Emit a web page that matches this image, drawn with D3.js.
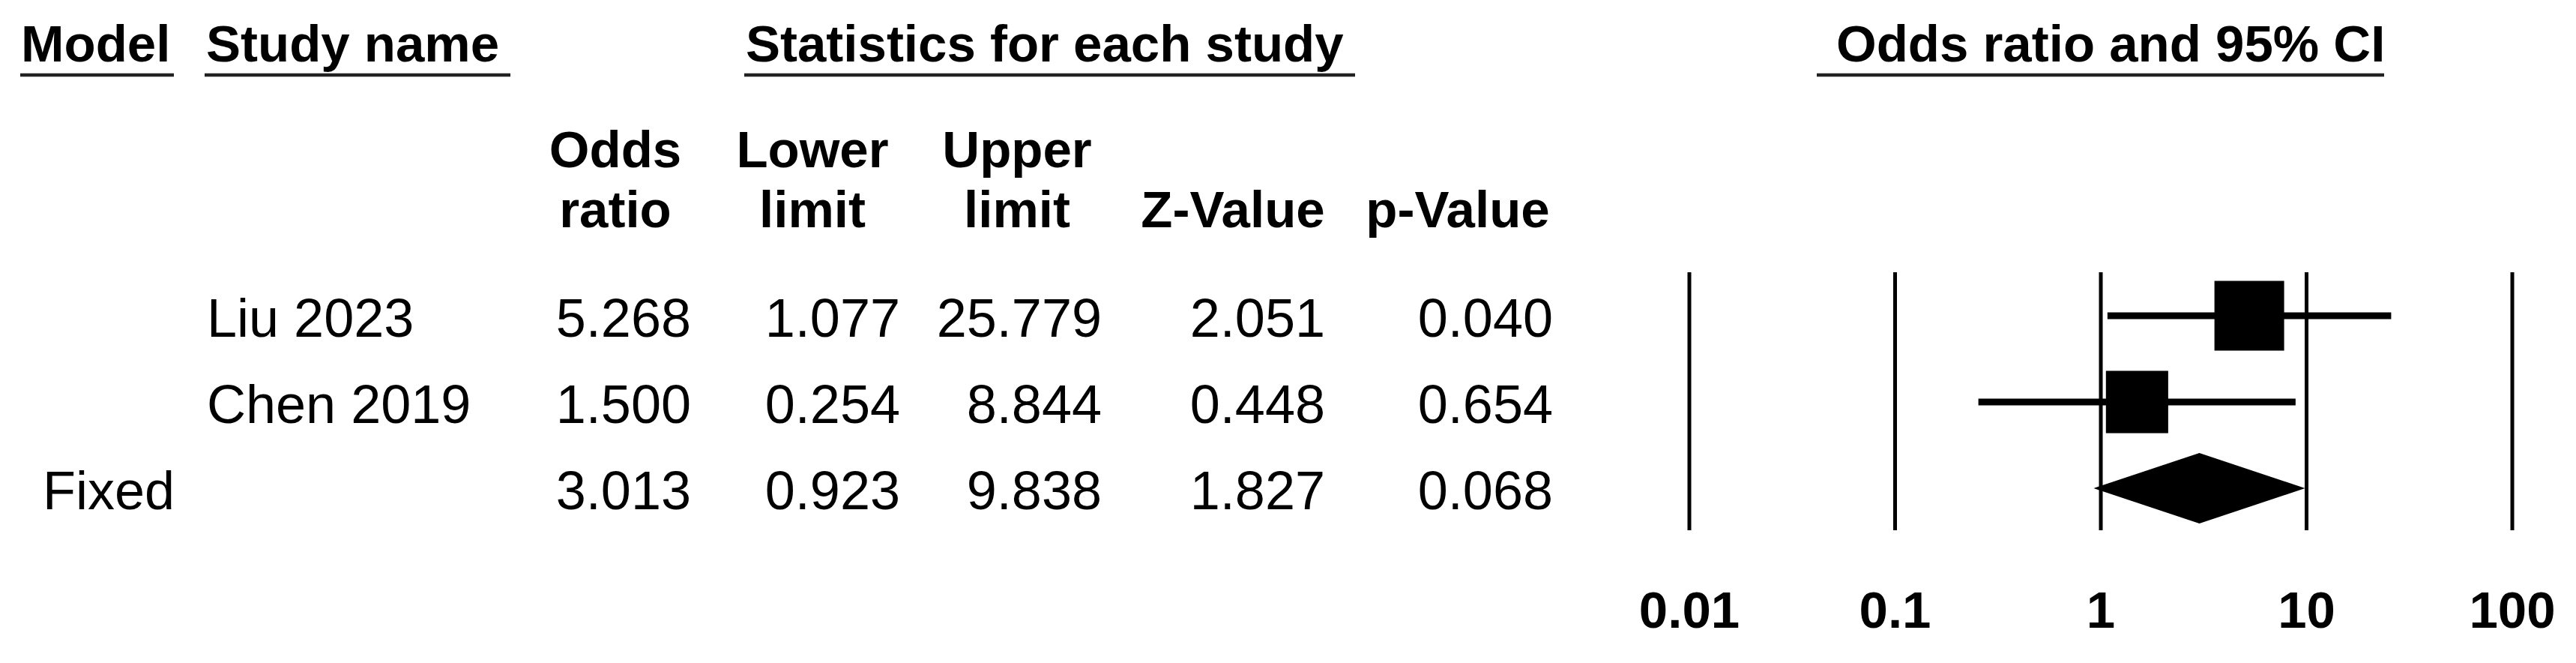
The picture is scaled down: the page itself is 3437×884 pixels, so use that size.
<!DOCTYPE html>
<html>
<head>
<meta charset="utf-8">
<script src="https://cdn.jsdelivr.net/npm/d3@7"></script>
<style>
    body { margin: 0; background: #fff; }
    text { font-family: "Liberation Sans", Arial, sans-serif; fill: #000; }
    .head { font-weight: bold; font-size: 69px; }
    .cell { font-size: 72px; }
</style>
</head>
<body>
<svg id="svg1" width="3437" height="884"></svg>
<script>
var studyNames = ["Liu 2023", "Chen 2019"];
var modelName = "Fixed";
var oddsRatio = [5.268, 1.500, 3.013];
var lowerLimit = [1.077, 0.254, 0.923];
var upperLimit = [25.779, 8.844, 9.838];
var zValue = [2.051, 0.448, 1.827];
var pValue = [0.040, 0.654, 0.068];
var relWeight = [55.6, 44.4];
var tickValues = [0.01, 0.1, 1, 10, 100];
var tickLabels = ["0.01", "0.1", "1", "10", "100"];

var svg = d3.select("#svg1"),
    fmt = d3.format(".3f");

var x = d3.scaleLog()
    .domain([0.01, 100])
    .range([2254, 3352]);

var y = d3.scalePoint()
    .domain([0, 1, 2])
    .range([421, 651]);

// box side grows with sqrt of the weight (area ~ weight)
var box = d3.scaleSqrt()
    .domain([0, 100])
    .range([0, 124.7]);

// top headers with underline
var heads = [
    { t: "Model", x: 28, x0: 27, x1: 232 },
    { t: "Study name", x: 275, x0: 273, x1: 681 },
    { t: "Statistics for each study", x: 995, x0: 993, x1: 1808 },
    { t: "Odds ratio and 95% CI", x: 2450, x0: 2424, x1: 3181 }
];

svg.selectAll(".toph")
    .data(heads)
    .enter().append("text")
    .attr("class", "head toph")
    .attr("x", function (d) { return d.x; })
    .attr("y", 82)
    .text(function (d) { return d.t; });

svg.selectAll(".uline")
    .data(heads)
    .enter().append("line")
    .attr("class", "uline")
    .attr("x1", function (d) { return d.x0; })
    .attr("x2", function (d) { return d.x1; })
    .attr("y1", 100)
    .attr("y2", 100)
    .attr("stroke", "#222")
    .attr("stroke-width", 4.5);

// column headers
var cols = [
    { l1: "Odds", l2: "ratio", c: 821, r: 922, v: oddsRatio },
    { l1: "Lower", l2: "limit", c: 1084, r: 1201, v: lowerLimit },
    { l1: "Upper", l2: "limit", c: 1357, r: 1470, v: upperLimit },
    { l1: "", l2: "Z-Value", c: 1645, r: 1768, v: zValue },
    { l1: "", l2: "p-Value", c: 1945, r: 2072, v: pValue }
];

cols.forEach(function (col) {
    svg.append("text")
        .attr("class", "head")
        .attr("x", col.c)
        .attr("y", 223)
        .attr("text-anchor", "middle")
        .text(col.l1);
    svg.append("text")
        .attr("class", "head")
        .attr("x", col.c)
        .attr("y", 303)
        .attr("text-anchor", "middle")
        .text(col.l2);

    svg.selectAll(null)
        .data(col.v)
        .enter().append("text")
        .attr("class", "cell")
        .attr("x", col.r)
        .attr("y", function (d, i) { return y(i) + 28; })
        .attr("text-anchor", "end")
        .text(function (d) { return fmt(d); });
});

// study / model names
svg.selectAll(".sname")
    .data(studyNames)
    .enter().append("text")
    .attr("class", "cell sname")
    .attr("x", 276)
    .attr("y", function (d, i) { return y(i) + 28; })
    .text(function (d) { return d; });

svg.append("text")
    .attr("class", "cell")
    .attr("x", 57)
    .attr("y", y(2) + 28)
    .text(modelName);

// vertical reference lines
svg.selectAll(".vline")
    .data(tickValues)
    .enter().append("line")
    .attr("class", "vline")
    .attr("x1", function (d) { return x(d); })
    .attr("x2", function (d) { return x(d); })
    .attr("y1", 363)
    .attr("y2", 707)
    .attr("stroke", "#000")
    .attr("stroke-width", 5);

svg.selectAll(".tlab")
    .data(tickValues)
    .enter().append("text")
    .attr("class", "head tlab")
    .attr("x", function (d) { return x(d); })
    .attr("y", 837)
    .attr("text-anchor", "middle")
    .text(function (d, i) { return tickLabels[i]; });

// study CIs and boxes
var idx = d3.range(studyNames.length);

svg.selectAll(".ci")
    .data(idx)
    .enter().append("line")
    .attr("class", "ci")
    .attr("x1", function (i) { return x(lowerLimit[i]); })
    .attr("x2", function (i) { return x(upperLimit[i]); })
    .attr("y1", function (i) { return y(i); })
    .attr("y2", function (i) { return y(i); })
    .attr("stroke", "#000")
    .attr("stroke-width", 9);

svg.selectAll(".box")
    .data(idx)
    .enter().append("rect")
    .attr("class", "box")
    .attr("x", function (i) { return x(oddsRatio[i]) - box(relWeight[i]) / 2; })
    .attr("y", function (i) { return y(i) - box(relWeight[i]) / 2; })
    .attr("width", function (i) { return box(relWeight[i]); })
    .attr("height", function (i) { return box(relWeight[i]); })
    .attr("fill", "#000");

// summary diamond
var k = 2, yc = y(k), hh = 47;
svg.append("path")
    .attr("d", "M" + x(lowerLimit[k]) + "," + yc +
        "L" + x(oddsRatio[k]) + "," + (yc - hh) +
        "L" + x(upperLimit[k]) + "," + yc +
        "L" + x(oddsRatio[k]) + "," + (yc + hh) + "Z")
    .attr("fill", "#000");
</script>
</body>
</html>
